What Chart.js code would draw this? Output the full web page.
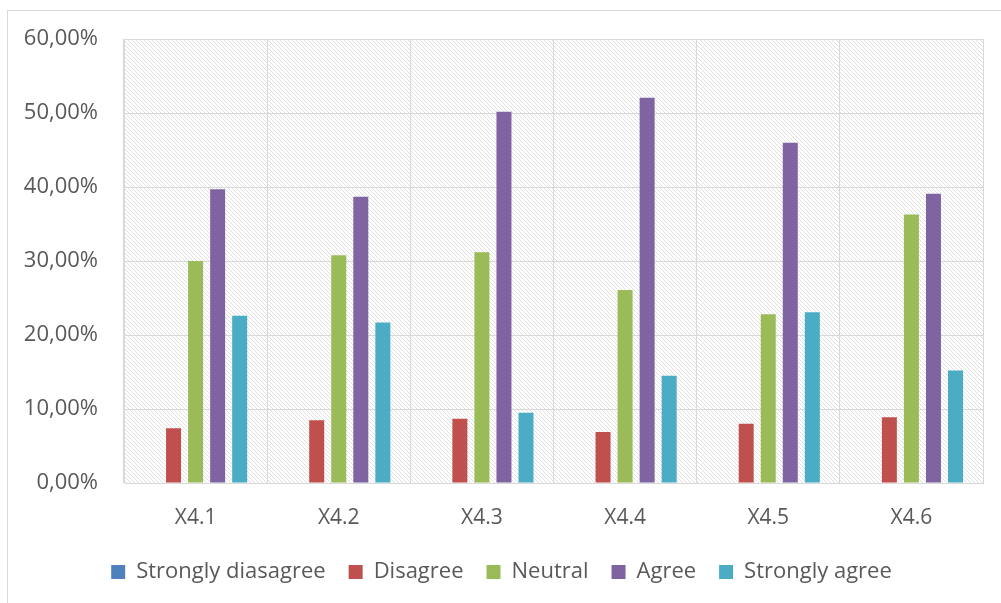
<!DOCTYPE html>
<html>
<head>
<meta charset="utf-8">
<script src="https://cdn.jsdelivr.net/npm/chart.js@4"></script>
<style>
  html, body { margin: 0; padding: 0; background: #fff; }
  #wrap { position: relative; width: 1001px; height: 603px; }
</style>
</head>
<body>
<div id="wrap"><canvas id="chart" width="1001" height="603"></canvas></div>
<script>
const categories = ["X4.1", "X4.2", "X4.3", "X4.4", "X4.5", "X4.6"];
const stronglyDisagree = [0, 0, 0, 0, 0, 0];
const disagree = [7.4, 8.5, 8.7, 6.9, 8.0, 8.9];
const neutral = [30.0, 30.8, 31.2, 26.1, 22.8, 36.3];
const agree = [39.7, 38.7, 50.2, 52.1, 46.0, 39.1];
const stronglyAgree = [22.6, 21.7, 9.5, 14.5, 23.1, 15.2];
const yTicks = [0, 10, 20, 30, 40, 50, 60];

const gridColor = "#d9d9d9";
const textColor = "#595959";

// diagonal hatch used behind the bars
function hatchPattern(ctx) {
  const tile = document.createElement("canvas");
  tile.width = 4;
  tile.height = 4;
  const t = tile.getContext("2d");
  t.fillStyle = "#fff";
  t.fillRect(0, 0, 4, 4);
  t.fillStyle = "#e0e0e0";
  for (let i = 0; i < 4; i++) t.fillRect(i, i, 1, 1);
  return ctx.createPattern(tile, "repeat");
}

const background = {
  id: "background",
  beforeDraw(chart) {
    const { ctx, chartArea: a } = chart;
    ctx.save();
    ctx.strokeStyle = gridColor;
    ctx.lineWidth = 1;
    ctx.strokeRect(7.5, 10.5, 1100, 700);
    ctx.fillStyle = hatchPattern(ctx);
    ctx.fillRect(a.left, a.top, a.right - a.left, a.bottom - a.top);
    ctx.restore();
  }
};

const ds = (label, data, color) => ({
  label,
  data,
  backgroundColor: color,
  borderColor: color,
  borderWidth: 0,
  categoryPercentage: 0.77,
  barPercentage: 0.68
});

new Chart(document.getElementById("chart"), {
  type: "bar",
  data: {
    labels: categories,
    datasets: [
      ds("Strongly diasagree", stronglyDisagree, "#4f81bd"),
      ds("Disagree", disagree, "#c0504d"),
      ds("Neutral", neutral, "#9bbb59"),
      ds("Agree", agree, "#8064a2"),
      ds("Strongly agree", stronglyAgree, "#4bacc6")
    ]
  },
  options: {
    responsive: false,
    animation: false,
    layout: { padding: { left: 20, right: 18, top: 33, bottom: 10 } },
    plugins: {
      tooltip: { enabled: false },
      legend: {
        position: "bottom",
        labels: {
          color: textColor,
          font: { family: "'Open Sans'", size: 22 },
          boxWidth: 14,
          boxHeight: 14,
          padding: 23
        }
      }
    },
    scales: {
      x: {
        grid: { color: gridColor, offset: true, drawTicks: false },
        border: { color: gridColor },
        ticks: { color: textColor, font: { family: "'Open Sans'", size: 21 }, padding: 22 },
        afterFit(scale) { scale.height = 55; }
      },
      y: {
        min: 0,
        max: 60,
        afterBuildTicks(scale) { scale.ticks = yTicks.map((v) => ({ value: v })); },
        grid: { color: gridColor, drawTicks: false },
        border: { color: gridColor },
        ticks: {
          color: textColor,
          font: { family: "'Open Sans'", size: 22 },
          padding: 26,
          callback: (v) => v.toFixed(2).replace(".", ",") + "%"
        },
        afterFit(scale) { scale.width = 104; }
      }
    }
  },
  plugins: [background]
});
</script>
</body>
</html>
